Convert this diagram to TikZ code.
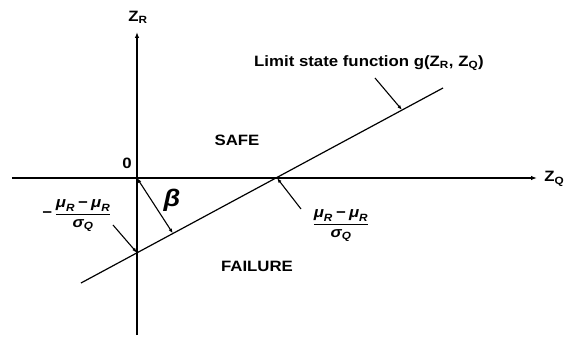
\documentclass[tikz,border=0pt]{standalone}
\usepackage{amsmath}
\usepackage{fontspec}
\setmainfont{Liberation Sans}[FakeStretch=1.12]
\usetikzlibrary{arrows.meta,calc}

\newcommand{\gmu}{\text{\itshape μ}_{\text{\itshape R}}}
\newcommand{\gsig}{\text{\itshape σ}_{\text{\itshape Q}}}

\begin{document}
\begin{tikzpicture}[x=1pt,y=1pt,
  axis/.style={line width=1.5pt,-{Latex[length=6pt,width=4.5pt]}},
  pointer/.style={line width=1.1pt,-{Latex[length=5pt,width=3.5pt]}},
  lbl/.style={font=\fontsize{15}{18}\selectfont\bfseries,inner sep=0pt}]
  \useasboundingbox (-137,-159) rectangle (428,178);

  \coordinate (O) at (0,0);
  \draw[axis] (-125,0) -- (400,0);
  \draw[axis] (0,-157) -- (0,146);
  \node[lbl,anchor=east] (zq) at (427.5,-1) {Z\textsubscript{Q}};
  \node[lbl] (zr) at (1,161) {Z\textsubscript{R}};
  \node[lbl] (zero) at (-10,15) {0};

  \coordinate (g1) at (-56,-105);
  \coordinate (g2) at (306,90);
  \draw[line width=1.2pt] (g1) -- (g2);
  \coordinate (yint) at (0,-74.8);
  \coordinate (xint) at (140,0);
  \coordinate (foot) at ($(g1)!0.254!(g2)$);
  \coordinate (gtip) at ($(g1)!0.887!(g2)$);
  \draw[pointer,{Latex[length=5pt,width=3.5pt]}-{Latex[length=5pt,width=3.5pt]}] (O) -- (foot);
  \node[lbl,font=\fontsize{24}{26}\selectfont\bfseries\itshape] (beta) at (35,-22) {β};

  \node[lbl] (safe) at (100,38) {SAFE};
  \node[lbl] (fail) at (120,-88) {FAILURE};

  \node[lbl] (gname) at (232,115) {Limit state function g(Z\textsubscript{R}, Z\textsubscript{Q})};
  \coordinate (p3) at (238,100);
  \draw[pointer] (p3) -- (gtip);

  \node[lbl] (fleft) at (-60,-38) {$\text{−}\,\dfrac{\gmu\mathbin{\text{−}}\gmu}{\gsig}$};
  \coordinate (p1) at (-24,-47);
  \draw[pointer] (p1) -- (yint);

  \node[lbl] (fright) at (204,-48) {$\dfrac{\gmu\mathbin{\text{−}}\gmu}{\gsig}$};
  \coordinate (p2) at (164,-31);
  \draw[pointer] (p2) -- (xint);
\end{tikzpicture}
\end{document}
